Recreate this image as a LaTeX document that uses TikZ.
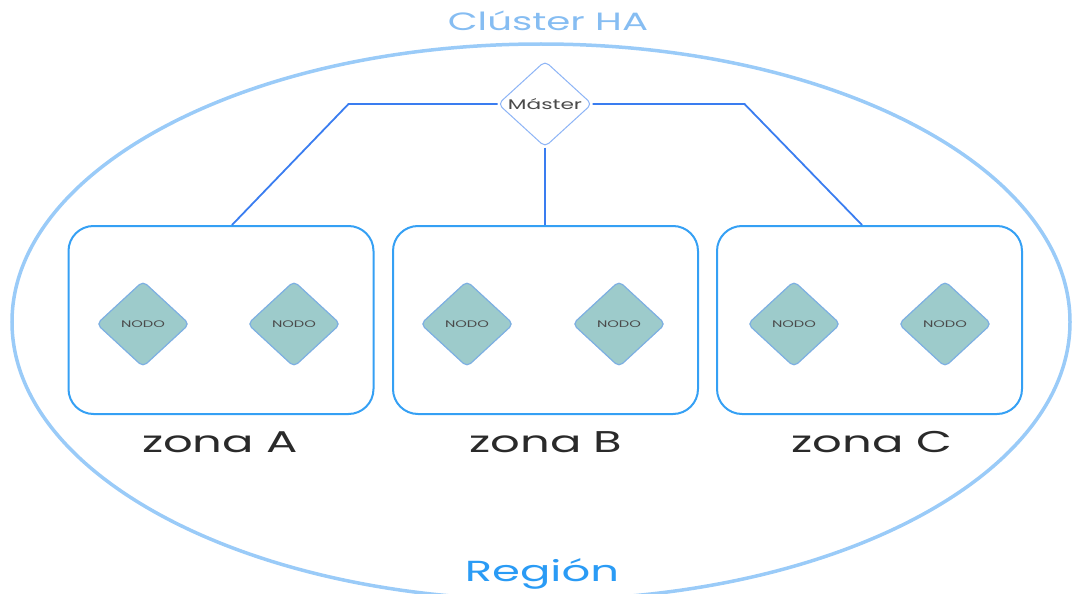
\documentclass[tikz,border=0pt]{standalone}
\usepackage{fontspec}
\usetikzlibrary{shapes.geometric}
\newfontfamily\geo[FakeStretch=1.55]{Poppins}
\definecolor{regionline}{HTML}{9ACBF8}
\definecolor{zoneline}{HTML}{35A0F4}
\definecolor{linkline}{HTML}{3A7DF0}
\definecolor{masterline}{HTML}{8DB4F6}
\definecolor{nodefill}{HTML}{9DCBCB}
\definecolor{nodeline}{HTML}{7DAFE2}
\definecolor{titleblue}{HTML}{86BDF2}
\definecolor{regionblue}{HTML}{2A9BF5}
\definecolor{darktext}{HTML}{2A2A2A}
\tikzset{
  zonebox/.style={draw=zoneline, line width=2pt, rounded corners=25pt,
    minimum width=305pt, minimum height=188pt, inner sep=0pt},
  workernode/.style={diamond, draw=nodeline, line width=1.2pt, fill=nodefill,
    rounded corners=5pt, minimum width=93pt, minimum height=86pt, inner sep=0pt,
    label={[text=darktext!85, font=\geo\fontsize{9.5}{9.5}\selectfont]center:NODO}},
  masternode/.style={diamond, draw=masterline, line width=1pt, fill=white,
    rounded corners=5pt, minimum width=94pt, minimum height=86pt, inner sep=0pt,
    label={[text=darktext!85, font=\geo\fontsize{14}{14}\selectfont]center:Máster}},
  link/.style={draw=linkline, line width=1.8pt},
  zonelabel/.style={text=darktext, font=\geo\fontsize{30}{30}\selectfont, inner sep=0pt}
}
\begin{document}
\begin{tikzpicture}[x=1pt, y=-1pt]
\useasboundingbox (0,0) rectangle (1072,594);

% region outline
\draw[regionline, line width=3.5pt] (541,322) ellipse [x radius=529pt, y radius=278pt];

% titles
\node[text=titleblue, font=\geo\fontsize{25}{25}\selectfont, inner sep=0pt] (title) at (548,21) {Clúster HA};
\node[text=regionblue, font=\geo\fontsize{29}{29}\selectfont, inner sep=0pt] (region) at (542,574) {Región};

% zones
\node[zonebox] (zA) at (221,320) {};
\node[zonebox] (zB) at (545.5,320) {};
\node[zonebox] (zC) at (869.5,320) {};

\node[zonelabel] (lA) at (220,442) {zona A};
\node[zonelabel] (lB) at (546,442) {zona B};
\node[zonelabel] (lC) at (872,442) {zona C};

% worker nodes
\node[workernode] (a1) at (143,324) {};
\node[workernode] (a2) at (294,324) {};
\node[workernode] (b1) at (467,324) {};
\node[workernode] (b2) at (619,324) {};
\node[workernode] (c1) at (794,324) {};
\node[workernode] (c2) at (945,324) {};

% master and its links to the zones
\node[masternode] (master) at (545,104) {};
\draw[link] (master.west) -- ++(-149pt,0) -- ([xshift=11pt]zA.north);
\draw[link] (master.south) -- (master.south |- zB.north);
\draw[link] (master.east) -- ++(152pt,0) -- ([xshift=-7.5pt]zC.north);
\end{tikzpicture}
\end{document}
